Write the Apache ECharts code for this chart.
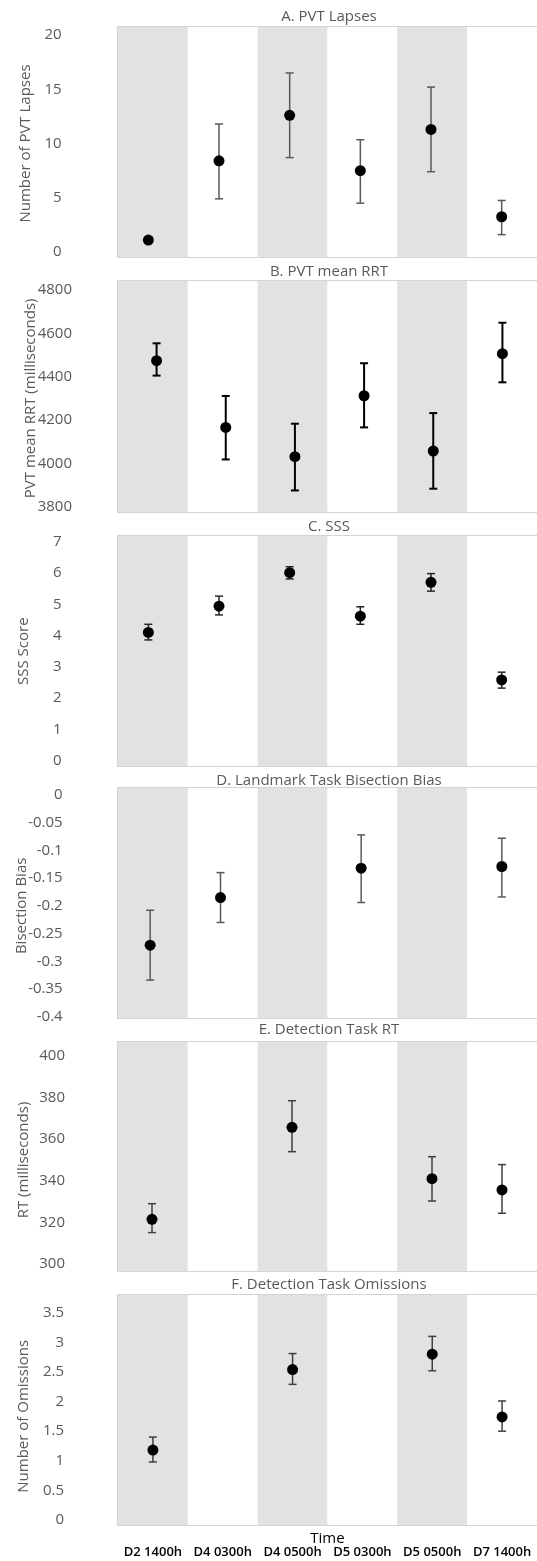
<!DOCTYPE html>
<html>
<head>
<meta charset="utf-8">
<script src="https://cdn.jsdelivr.net/npm/echarts@6/dist/echarts.min.js"></script>
<style>html,body{margin:0;padding:0;background:#fff;}#chart{width:537px;height:1561px;}</style>
</head>
<body>
<div id="chart"></div>
<script>
// ---------------- data ----------------
const categories = ['D2 1400h', 'D4 0300h', 'D4 0500h', 'D5 0300h', 'D5 0500h', 'D7 1400h'];

const lapsesMean = [1.1, 8.4, 12.6, 7.5, 11.3, 3.25];
const lapsesLow  = [0.95, 4.9, 8.7, 4.5, 7.4, 1.6];
const lapsesHigh = [1.25, 11.8, 16.5, 10.35, 15.2, 4.75];

const rrtMean = [4474, 4166, 4031, 4312, 4057, 4506];
const rrtLow  = [4405, 4018, 3875, 4166, 3883, 4374];
const rrtHigh = [4554, 4311, 4183, 4462, 4232, 4649];

const sssMean = [4.10, 4.94, 6.01, 4.62, 5.70, 2.58];
const sssLow  = [3.86, 4.66, 5.81, 4.36, 5.42, 2.32];
const sssHigh = [4.36, 5.26, 6.20, 4.92, 5.98, 2.83];

const biasMean = [-0.271, -0.185, null, -0.132, null, -0.129];
const biasLow  = [-0.334, -0.230, null, -0.194, null, -0.184];
const biasHigh = [-0.208, -0.140, null, -0.072, null, -0.078];

const rtMean = [321.5, null, 365.7, null, 341.0, 335.6];
const rtLow  = [315.1, null, 354.0, null, 330.3, 324.4];
const rtHigh = [329.0, null, 378.5, null, 351.6, 347.8];

const omMean = [1.18, null, 2.54, null, 2.80, 1.74];
const omLow  = [0.98, null, 2.29, null, 2.52, 1.50];
const omHigh = [1.40, null, 2.81, null, 3.10, 2.01];

const panelTitles = ['A. PVT Lapses', 'B. PVT mean RRT', 'C. SSS', 'D. Landmark Task Bisection Bias', 'E. Detection Task RT', 'F. Detection Task Omissions'];
const axisNames = ['Number of PVT Lapses', 'PVT mean RRT (milliseconds)', 'SSS Score', 'Bisection Bias', 'RT (milliseconds)', 'Number of Omissions'];
// [min, max, interval] for each panel's value axis
const axisMins = [0, 3800, 0, -0.4, 300, 0];
const axisMaxs = [20, 4800, 7, 0, 400, 3.5];
const axisSteps = [5, 200, 1, 0.05, 20, 0.5];
const xAxisTitle = 'Time';

const means = [lapsesMean, rrtMean, sssMean, biasMean, rtMean, omMean];
const lows = [lapsesLow, rrtLow, sssLow, biasLow, rtLow, omLow];
const highs = [lapsesHigh, rrtHigh, sssHigh, biasHigh, rtHigh, omHigh];

// ---------------- layout (pixels) ----------------
const layout = [
  {titleY: 17,   bgTop: 27,   bgBot: 257,  fgTop: 35,   fgBot: 252,  fgLeft: 113, fgW: 430, nameX: 24, err: '#595959', errW: 1.5},
  {titleY: 272,  bgTop: 281,  bgBot: 512,  fgTop: 290,  fgBot: 506.7, fgLeft: 122, fgW: 419, nameX: 29, err: '#000000', errW: 2},
  {titleY: 527,  bgTop: 536,  bgBot: 766,  fgTop: 541.7, fgBot: 760.7, fgLeft: 113, fgW: 433, nameX: 22, err: '#262626', errW: 1.5},
  {titleY: 781,  bgTop: 788,  bgBot: 1018, fgTop: 795,  fgBot: 1016.7, fgLeft: 115, fgW: 431, nameX: 20.5, err: '#595959', errW: 1.5},
  {titleY: 1030, bgTop: 1042, bgBot: 1271, fgTop: 1056, fgBot: 1264, fgLeft: 117, fgW: 431, nameX: 22, err: '#404040', errW: 1.5},
  {titleY: 1285, bgTop: 1295, bgBot: 1525, fgTop: 1312.7, fgBot: 1520, fgLeft: 118, fgW: 442, nameX: 22, err: '#404040', errW: 1.5}
];
const labelRight = [61.6, 72, 61.6, 62.7, 65, 64];
const BG_LEFT = 118, BG_W = 422;
const FONT = 'Open Sans';
const GREY_TEXT = '#595959';

const grid = [], xAxis = [], yAxis = [], series = [], graphic = [];

function fmt(v) { return String(parseFloat(v.toFixed(3))); }

layout.forEach((L, p) => {
  const bgIdx = p * 2, fgIdx = p * 2 + 1;
  grid.push({left: BG_LEFT, width: BG_W, top: L.bgTop, height: L.bgBot - L.bgTop,
    show: true, borderColor: '#d4d4d4', borderWidth: 2, backgroundColor: 'transparent'});
  grid.push({left: L.fgLeft, width: L.fgW, top: L.fgTop, height: L.fgBot - L.fgTop});

  const last = p === layout.length - 1;
  xAxis.push({gridIndex: bgIdx, type: 'category', data: categories, boundaryGap: true,
    axisLine: {show: false}, axisTick: {show: false},
    axisLabel: {show: last, color: '#000', fontFamily: FONT, fontSize: 13, fontWeight: 600, margin: 21, interval: 0},
    name: last ? xAxisTitle : '', nameLocation: 'middle', nameGap: 6, nameMoveOverlap: false,
    nameTextStyle: {color: '#000', fontFamily: FONT, fontSize: 15},
    splitLine: {show: false},
    splitArea: {show: true, interval: 0, areaStyle: {color: ['#e2e2e2', '#ffffff']}}});
  yAxis.push({gridIndex: bgIdx, type: 'value', min: 0, max: 1, show: false, splitLine: {show: false}});

  xAxis.push({gridIndex: fgIdx, type: 'category', data: categories, boundaryGap: true, show: false});
  yAxis.push({gridIndex: fgIdx, type: 'value', min: axisMins[p], max: axisMaxs[p], interval: axisSteps[p],
    axisLine: {show: false}, axisTick: {show: false}, splitLine: {show: false},
    axisLabel: {color: GREY_TEXT, fontFamily: FONT, fontSize: 15, margin: L.fgLeft - labelRight[p], formatter: fmt},
    name: axisNames[p], nameLocation: 'middle', nameGap: L.fgLeft - L.nameX - 9, nameMoveOverlap: false,
    nameTextStyle: {color: GREY_TEXT, fontFamily: FONT, fontSize: 15}});

  const errData = [];
  const ptData = [];
  means[p].forEach((m, i) => {
    if (m === null) return;
    ptData.push([i, m]);
    errData.push([i, lows[p][i], highs[p][i]]);
  });
  const errColor = L.err, errW = L.errW;
  series.push({type: 'custom', xAxisIndex: fgIdx, yAxisIndex: fgIdx, data: errData, z: 3,
    encode: {x: 0, y: [1, 2]}, clip: false,
    renderItem: function (params, api) {
      const x = api.value(0);
      const a = api.coord([x, api.value(1)]);
      const b = api.coord([x, api.value(2)]);
      const w = 4;
      const st = {stroke: errColor, lineWidth: errW};
      return {type: 'group', children: [
        {type: 'line', shape: {x1: a[0], y1: a[1], x2: b[0], y2: b[1]}, style: st},
        {type: 'line', shape: {x1: a[0] - w, y1: a[1], x2: a[0] + w, y2: a[1]}, style: st},
        {type: 'line', shape: {x1: b[0] - w, y1: b[1], x2: b[0] + w, y2: b[1]}, style: st}
      ]};
    }});
  series.push({type: 'scatter', xAxisIndex: fgIdx, yAxisIndex: fgIdx, data: ptData, z: 5,
    symbol: 'circle', symbolSize: 11, itemStyle: {color: '#000000', opacity: 1}, clip: false});

  graphic.push({type: 'text', x: 329, y: L.titleY, z: 10,
    style: {text: panelTitles[p], fill: GREY_TEXT, font: '15px "' + FONT + '"', align: 'center', verticalAlign: 'middle'}});
});

const chart = echarts.init(document.getElementById('chart'), null, {renderer: 'canvas'});
chart.setOption({animation: false, backgroundColor: '#ffffff', grid, xAxis, yAxis, series, graphic});
</script>
</body>
</html>
